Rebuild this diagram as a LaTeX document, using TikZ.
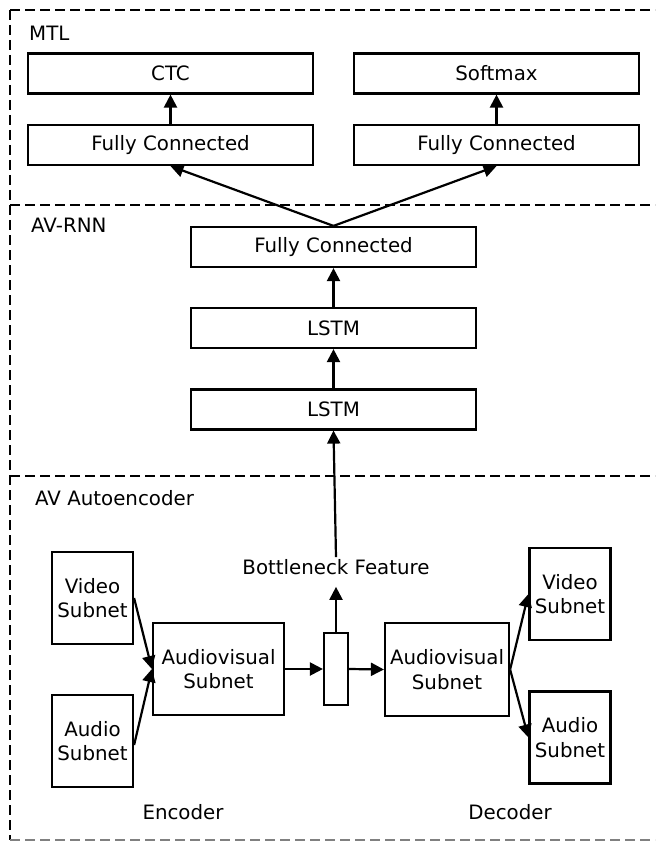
\documentclass[tikz,border=0pt]{standalone}
\usepackage{fontspec}
\setmainfont{DejaVu Sans}
\usetikzlibrary{arrows.meta}
\begin{document}
\begin{tikzpicture}[x=1pt,y=-1pt,
  every node/.style={font=\fontsize{19.8}{24.5}\selectfont},
  box/.style={draw, line width=2.2pt, rectangle, inner sep=0pt, align=center},
  wide/.style={box, minimum width=285, minimum height=40},
  sq/.style={box, minimum width=81, minimum height=92},
  arr/.style={line width=2.2pt, -{Triangle[length=13pt,width=13pt]}},
  sep/.style={line width=2.2pt, dash pattern=on 10pt off 5pt},
  lbl/.style={anchor=west, inner sep=0pt}]
\useasboundingbox (0,0) rectangle (655,842);
% region borders
\draw[sep] (10,10) -- (655,10);
\draw[sep] (10,10) -- (10,840);
\draw[sep] (10,205) -- (655,205);
\draw[sep] (10,476) -- (655,476);
\draw[sep, gray] (10,840) -- (655,840);
% region labels
\node[lbl] (mtl) at (29,33) {MTL};
\node[lbl] (avrnn) at (31,225) {AV-RNN};
\node[lbl] (avae) at (35,498) {AV Autoencoder};
% MTL
\node[wide] (ctc) at (170.5,73.5) {CTC};
\node[wide] (fcl) at (170.5,145) {Fully Connected};
\node[wide] (soft) at (496.5,73.5) {Softmax};
\node[wide] (fcr) at (496.5,145) {Fully Connected};
% AV-RNN
\node[wide] (fc) at (333.5,247) {Fully Connected};
\node[wide] (lstma) at (333.5,328) {LSTM};
\node[wide] (lstmb) at (333.5,409.5) {LSTM};
% Autoencoder
\node[inner sep=2pt] (bnl) at (336,567) {Bottleneck Feature};
\node[box, minimum width=24, minimum height=72] (bn) at (336,669) {};
\node[sq] (venc) at (92.5,598) {Video\\Subnet};
\node[sq] (aenc) at (92.5,741) {Audio\\Subnet};
\node[box, minimum width=131, minimum height=92] (avenc) at (218.5,669) {Audiovisual\\Subnet};
\node[box, minimum width=124, minimum height=93] (avdec) at (447,669.5) {Audiovisual\\Subnet};
\node[sq] (vdec) at (570,594) {Video\\Subnet};
\node[sq] (adec) at (570,737.5) {Audio\\Subnet};
\node (enc) at (183,812) {Encoder};
\node (dec) at (510,812) {Decoder};
% connectors
\draw[arr] (fcl.north) -- (ctc.south);
\draw[arr] (fcr.north) -- (soft.south);
\draw[arr] (fc.north) -- (fcl.south);
\draw[arr] (fc.north) -- (fcr.south);
\draw[arr] (lstma.north) -- (fc.south);
\draw[arr] (lstmb.north) -- (lstma.south);
\draw[arr] (bnl.north) -- (lstmb.south);
\draw[arr, shorten >=10pt] (bn.north) -- (bnl.south);
\draw[arr] (venc.east) -- (avenc.west);
\draw[arr] ([yshift=-4]aenc.east) -- (avenc.west);
\draw[arr] (avenc.east) -- (bn.west);
\draw[arr] (bn.east) -- (avdec.west);
\draw[arr] (avdec.east) -- (vdec.west);
\draw[arr] (avdec.east) -- (adec.west);
\end{tikzpicture}
\end{document}
